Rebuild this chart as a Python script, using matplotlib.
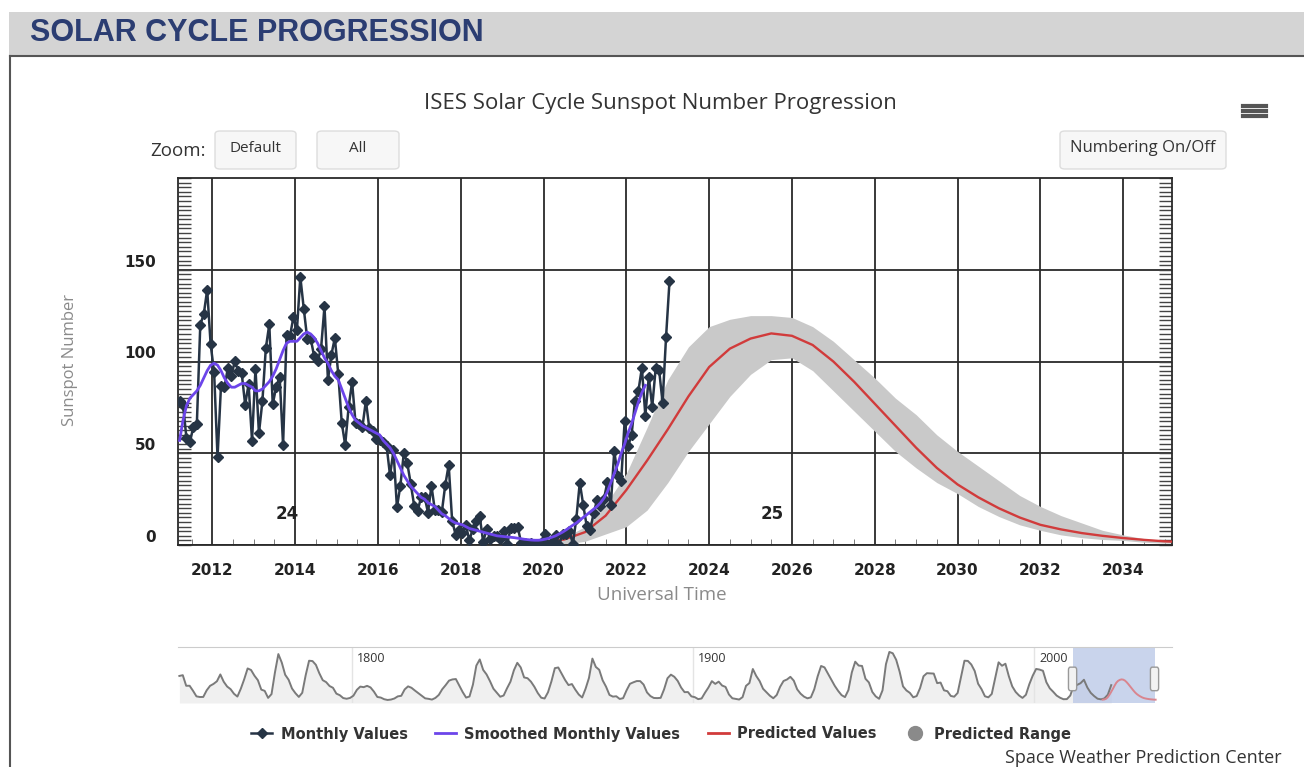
import numpy as np
import pandas as pd
import matplotlib
matplotlib.use('Agg')
import matplotlib.pyplot as plt
import matplotlib.transforms as mtransforms
from matplotlib.patches import FancyBboxPatch, Rectangle
from matplotlib.lines import Line2D
from matplotlib.ticker import MultipleLocator

# monthly mean sunspot number, Mar 2011 .. Jan 2023
monthly_values = [
    78.6, 76.1, 58.2, 56.1, 64.5, 65.8, 120.1, 125.7, 139.1, 109.3,
    94.4, 47.8, 86.6, 85.9, 96.5, 92.0, 100.1, 94.8, 93.7, 76.5, 87.6, 56.8,
    96.1, 60.9, 78.3, 107.3, 120.2, 76.7, 86.2, 91.8, 54.5, 114.4, 113.9, 124.2,
    117.0, 146.1, 128.7, 112.5, 112.5, 102.9, 100.2, 106.9, 130.0, 90.0, 103.6, 112.9,
    93.0, 66.7, 54.5, 75.3, 88.8, 66.5, 65.8, 64.4, 78.6, 63.6, 62.2, 58.0,
    57.0, 56.4, 54.1, 37.9, 51.5, 20.5, 32.4, 50.2, 44.6, 33.4, 21.4, 18.5,
    26.1, 26.4, 17.7, 32.3, 18.9, 19.2, 17.8, 32.6, 43.7, 13.2, 5.7, 8.2,
    6.8, 10.7, 2.5, 8.9, 13.1, 15.6, 1.6, 8.7, 3.3, 4.9, 4.9, 3.1,
    7.7, 0.8, 9.4, 9.1, 9.9, 1.2, 0.9, 0.5, 1.1, 0.4, 0.5, 1.5,
    6.2, 0.2, 1.5, 5.2, 0.2, 5.8, 6.1, 7.5, 0.6, 14.4, 34.0, 21.8,
    10.4, 8.2, 17.2, 24.5, 21.2, 25.0, 34.3, 22.0, 51.3, 37.4, 34.8, 67.5,
    54.0, 59.7, 78.5, 84.1, 96.5, 70.5, 91.4, 75.4, 96.3, 95.2, 77.6, 113.1,
    143.6,
]

# smoothed monthly values, Mar 2011 .. Jun 2022
smoothed_values = [
    57, 68, 76, 80, 82, 84, 87, 91, 95, 98,
    99, 98, 95, 91, 88, 86, 86, 87, 88, 88, 87, 86,
    84, 84, 85, 87, 89, 92, 96, 101, 106, 110, 111, 111,
    111, 113, 115, 116, 115, 113, 110, 106, 102, 99, 95, 92,
    90, 85, 80, 75, 71, 68, 66.5, 65, 64, 63, 62, 61,
    60, 57, 55, 53, 50, 46, 42, 38, 35, 32, 30, 28,
    26, 25, 23, 22, 21, 19, 17, 16, 14.5, 13, 12, 11.5,
    11, 10, 9, 8.5, 8, 7.5, 7, 6.5, 6, 5.5, 5, 4.8,
    4.6, 4.4, 4.2, 4, 3.7, 3.4, 3.1, 2.9, 2.7, 2.6, 2.6, 2.8,
    3.2, 3.7, 4.3, 5, 6, 7, 8.2, 9.5, 10.8, 12, 13.5, 15,
    16.5, 18, 19.5, 21, 23, 25.5, 29, 34, 39, 44, 50, 55,
    61, 66, 72, 78, 83, 87,
]

# cycle 25 prediction (half-year steps)
pred_years = [2020.0, 2020.5, 2021.0, 2021.5, 2022.0, 2022.5, 2023.0, 2023.5,
              2024.0, 2024.5, 2025.0, 2025.5, 2026.0, 2026.5, 2027.0, 2027.5,
              2028.0, 2028.5, 2029.0, 2029.5, 2030.0, 2030.5, 2031.0, 2031.5,
              2032.0, 2032.5, 2033.0, 2033.5, 2034.0, 2034.5, 2035.0, 2035.5]
pred_values = [1.8, 3, 7, 16, 30, 46, 63, 81, 97, 107, 112.5, 115.3, 114, 109, 100, 89,
               77, 65, 53, 42, 33, 26, 20, 15, 11, 8.5, 6.5, 5, 3.8, 2.8, 2, 1.6]
pred_high = [2, 4, 10, 22, 39, 64, 90, 108, 119, 123, 125, 125, 124, 119, 111, 101,
             91, 80, 71, 60, 51, 43, 35, 27, 21, 16, 12, 8, 5.5, 3.5, 2.5, 2]
pred_low = [0, 0.5, 2, 6, 10, 19, 34, 51, 66, 81, 93, 101, 102, 95, 84, 73,
            62, 51, 42, 34, 28, 21, 15.5, 11, 8, 5.5, 4, 3, 2.5, 1.5, 1, 1]

# yearly sunspot number for the navigator, 1749 .. 2022
yearly_values = [
    134.7, 139.0, 79.5, 79.7, 51.5, 20.3, 16.6, 17.0, 54.0, 79.3,
    90.0, 104.8, 143.2, 102.0, 75.2, 60.7, 34.8, 19.0, 63.0, 116.3,
    176.8, 168.0, 136.0, 110.8, 58.0, 51.0, 11.7, 33.0, 154.2, 257.3,
    209.8, 141.3, 113.5, 64.2, 38.0, 17.0, 40.2, 138.2, 220.0, 218.2,
    196.8, 149.8, 111.0, 100.0, 78.2, 68.3, 35.5, 26.7, 10.7, 6.8,
    11.3, 24.2, 56.7, 75.0, 71.8, 79.2, 70.3, 46.8, 16.8, 13.5,
    4.2, 0.0, 2.3, 8.3, 20.3, 23.2, 59.0, 76.3, 68.3, 52.9,
    38.5, 24.2, 9.2, 6.3, 2.2, 11.4, 28.2, 59.9, 83.0, 108.5,
    115.2, 117.4, 80.8, 44.3, 13.4, 19.5, 85.8, 192.7, 227.3, 168.7,
    143.0, 105.5, 63.3, 40.3, 18.1, 25.1, 65.8, 102.7, 166.3, 208.3,
    182.5, 126.3, 122.0, 102.7, 74.1, 39.0, 12.7, 8.2, 43.4, 104.4,
    178.3, 182.2, 146.6, 112.1, 83.5, 89.2, 57.8, 30.7, 13.9, 62.8,
    123.6, 232.0, 185.3, 169.2, 110.1, 74.5, 28.3, 18.9, 20.7, 5.7,
    10.0, 53.7, 90.5, 99.0, 106.1, 105.8, 86.3, 42.4, 21.8, 11.2,
    10.4, 11.8, 59.5, 121.7, 142.0, 130.0, 106.6, 69.4, 43.8, 44.4,
    20.2, 15.7, 4.6, 8.5, 40.8, 70.1, 105.5, 90.1, 102.8, 80.9,
    73.2, 30.9, 9.5, 6.0, 2.4, 16.1, 79.0, 95.0, 173.6, 134.6,
    105.7, 62.7, 43.5, 23.7, 9.7, 27.9, 74.0, 106.5, 114.7, 129.7,
    108.2, 59.4, 35.1, 18.6, 9.2, 14.6, 60.2, 132.8, 190.6, 182.6,
    148.0, 113.0, 79.2, 50.8, 27.1, 16.1, 55.3, 154.3, 214.7, 193.0,
    190.7, 118.9, 98.3, 45.0, 20.1, 6.6, 54.2, 200.7, 269.3, 261.7,
    225.1, 159.0, 76.4, 53.4, 39.9, 15.0, 22.0, 66.8, 132.9, 150.2,
    149.4, 148.0, 94.4, 97.6, 54.1, 49.2, 22.5, 18.4, 39.3, 131.0,
    220.1, 218.9, 198.9, 162.4, 91.0, 60.5, 20.6, 14.8, 33.9, 123.0,
    211.1, 191.8, 203.3, 133.0, 76.1, 44.9, 25.1, 11.6, 28.9, 88.3,
    136.3, 173.9, 170.4, 163.6, 99.3, 65.3, 45.8, 24.7, 12.6, 4.2,
    4.8, 24.9, 80.8, 84.5, 94.0, 113.3, 69.8, 39.8, 21.7, 7.0,
    3.6, 8.8, 29.6, 83.2,
]

cycle_labels = ['24', '25']
cycle_pos = [(2013.81, 16.8), (2025.52, 16.8)]
x_ticks = list(range(2012, 2036, 2))
y_ticks = [0, 50, 100, 150]
nav_years = [1800, 1900, 2000]

# decimal years for the monthly series
m_dates = pd.date_range('2011-03-01', periods=len(monthly_values), freq='MS')
t_monthly = m_dates.year + (m_dates.month - 0.5) / 12
s_dates = pd.date_range('2011-03-01', periods=len(smoothed_values), freq='MS')
t_smooth = s_dates.year + (s_dates.month - 0.5) / 12
t_yearly = np.arange(1749, 1749 + len(yearly_values)) + 0.5

W, H = 1304, 767
fig = plt.figure(figsize=(W / 100, H / 100), dpi=100)
fig.patch.set_facecolor('white')


def fx(px):
    return px / W


def fy(py):
    return 1 - py / H


# page header
fig.patches.append(Rectangle((fx(9), fy(56)), fx(1304 - 9), 44 / H, transform=fig.transFigure,
                             facecolor='#d4d4d4', edgecolor='none', zorder=0))
fig.lines.append(Line2D([fx(10), fx(1304)], [fy(56), fy(56)], transform=fig.transFigure,
                        color='#555555', lw=1.5))
fig.lines.append(Line2D([fx(10), fx(10)], [fy(56), 0], transform=fig.transFigure,
                        color='#555555', lw=1.5))
fig.text(fx(30), fy(33), 'SOLAR CYCLE PROGRESSION', fontsize=22, fontweight='bold',
         family='Liberation Sans', color='#2b3d72', va='center', ha='left')

# chart title, buttons
fig.text(fx(660), fy(103), 'ISES Solar Cycle Sunspot Number Progression', fontsize=16,
         family='Open Sans', color='#333333', ha='center', va='center')
fig.text(fx(150), fy(151), 'Zoom:', fontsize=13.5, family='Open Sans', color='#333333',
         ha='left', va='center')


def button(x0, x1, label, size=11):
    box = FancyBboxPatch((fx(x0), fy(169)), fx(x1 - x0), 38 / H, transform=fig.transFigure,
                         boxstyle='round,pad=0,rounding_size=0.004',
                         facecolor='#f7f7f7', edgecolor='#dddddd', lw=1)
    fig.patches.append(box)
    fig.text(fx((x0 + x1) / 2), fy(148), label, fontsize=size, family='Open Sans',
             color='#333333', ha='center', va='center')


button(215, 296, 'Default')
button(317, 399, 'All')
button(1060, 1226, 'Numbering On/Off', 12)
for yy in [106, 111, 116]:
    fig.lines.append(Line2D([fx(1243), fx(1266)], [fy(yy), fy(yy)], transform=fig.transFigure,
                            color='#555555', lw=3))

# main chart
ax = fig.add_axes([fx(178), fy(545), fx(1172 - 178), 367 / H])
ax.fill_between(pred_years, pred_low, pred_high, color='#c9c9c9', lw=0, zorder=2)
ax.plot(pred_years, pred_values, color='#d13b3b', lw=1.7, zorder=3)
ax.plot(t_monthly, monthly_values, color='#263445', lw=1.8, marker='D', markersize=4.8,
        zorder=4)
ax.plot(t_smooth, smoothed_values, color='#6c45ea', lw=2, zorder=5)

ax.set_xlim(2011.17, 2035.18)
ax.set_ylim(0, 200)
ax.set_xticks(x_ticks)
ax.set_yticks(y_ticks)
ax.xaxis.set_minor_locator(MultipleLocator(0.5))
ax.yaxis.set_minor_locator(MultipleLocator(2.5))
ax.grid(True, which='major', color='#2a2a2a', lw=1.3, zorder=1)
ax.set_axisbelow(True)
for s in ax.spines.values():
    s.set_color('#2a2a2a')
    s.set_linewidth(1.3)
ax.tick_params(axis='x', which='major', length=0, pad=13, labelsize=11)
ax.tick_params(axis='x', which='minor', direction='in', length=4, color='#666666')
ax.tick_params(axis='y', which='both', direction='in', length=9.5, width=1, color='#444444',
               left=True, right=True, pad=16, labelsize=11)
for lab in ax.get_xticklabels() + ax.get_yticklabels():
    lab.set_fontweight('bold')
    lab.set_color('#222222')
for lab in ax.get_yticklabels():
    lab.set_transform(lab.get_transform() +
                      mtransforms.ScaledTranslation(0, 0.09, fig.dpi_scale_trans))

for lab, (cx, cy) in zip(cycle_labels, cycle_pos):
    ax.text(cx, cy, lab, fontsize=12, fontweight='bold', color='#222222',
            ha='center', va='center', zorder=6)

fig.text(fx(70), fy(360), 'Sunspot Number', rotation=90, fontsize=12, family='Open Sans',
         color='#8a8a8a', ha='center', va='center')
fig.text(fx(662), fy(595), 'Universal Time', fontsize=13.5, family='Open Sans',
         color='#8a8a8a', ha='center', va='center')

# navigator
nav = fig.add_axes([fx(178), fy(703), fx(1172 - 178), 56 / H])
nav.set_xlim(1749.1, 2040.3)
nav.set_ylim(-17, 297)
nav.axvspan(ax.get_xlim()[0], ax.get_xlim()[1], color='#b8c6e6', alpha=0.75, lw=0, zorder=1)
nav.fill_between(t_yearly, yearly_values, -17, color='#f0f0f0', lw=0, zorder=0.5)
nav.plot(t_yearly, yearly_values, color='#7a7a7a', lw=1.4, zorder=3)
nav.plot(pred_years, pred_values, color='#d9858f', lw=1.4, zorder=3)
for yr in nav_years:
    nav.axvline(yr, color='#e4e4e4', lw=1, zorder=0.8)
    nav.text(yr + 1.5, 270, str(yr), fontsize=9, family='Open Sans', color='#333333',
             ha='left', va='top')
nav.set_xticks([])
nav.set_yticks([])
for k, s in nav.spines.items():
    s.set_visible(k == 'top')
nav.spines['top'].set_color('#cccccc')
trans = mtransforms.blended_transform_factory(nav.transData, nav.transAxes)
for edge in ax.get_xlim():
    nav.add_patch(FancyBboxPatch((edge - 1.2, 0.22), 2.4, 0.42, transform=trans,
                                 boxstyle='round,pad=0,rounding_size=0.5',
                                 facecolor='#f2f2f2', edgecolor='#999999', lw=1, zorder=5,
                                 mutation_aspect=0.1))

# legend
handles = [
    Line2D([], [], color='#263445', lw=1.8, marker='D', markersize=5),
    Line2D([], [], color='#6c45ea', lw=2),
    Line2D([], [], color='#d13b3b', lw=2),
    Line2D([], [], color='#8a8a8a', lw=0, marker='o', markersize=10),
]
labels = ['Monthly Values', 'Smoothed Monthly Values', 'Predicted Values', 'Predicted Range']
fig.legend(handles, labels, loc='center', bbox_to_anchor=(fx(661), fy(734)), ncol=4,
           frameon=False, prop={'weight': 'bold', 'size': 10.5}, handlelength=1.4,
           handletextpad=0.6, columnspacing=1.9, labelcolor='#333333')

fig.text(fx(1282), fy(758), 'Space Weather Prediction Center', fontsize=13,
         family='Open Sans', color='#333333', ha='right', va='center')

fig.savefig('out.png', dpi=100)
